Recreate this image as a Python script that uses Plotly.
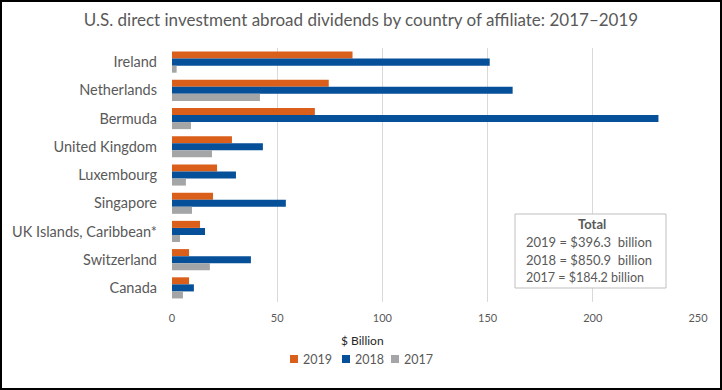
import plotly.graph_objects as go

countries = ["Ireland", "Netherlands", "Bermuda", "United Kingdom", "Luxembourg",
             "Singapore", "UK Islands, Caribbean*", "Switzerland", "Canada"]
v2019 = [85.8, 74.5, 67.9, 28.5, 21.4, 19.5, 13.3, 8.1, 8.1]
v2018 = [151.0, 161.9, 231.2, 43.2, 30.4, 54.1, 15.7, 37.5, 10.4]
v2017 = [2.2, 41.8, 9.0, 19.0, 6.6, 9.5, 3.8, 18.0, 5.2]
series_names = ["2019", "2018", "2017"]
series_colors = ["#DA5F1B", "#064F99", "#A3A5A6"]
x_ticks = [0, 50, 100, 150, 200, 250]
totals = ["2019 = $396.3  billion", "2018 = $850.9  billion", "2017 = $184.2 billion"]

W, H = 722, 390
L, R, T, B = 172, 698, 48, 302
pw, ph = R - L, B - T

def px(x):
    return (x - L) / pw

def py(y):
    return (B - y) / ph

font = "Lato, 'Open Sans', sans-serif"
txt = "#595959"

fig = go.Figure()
for name, vals, col in zip(series_names, [v2019, v2018, v2017], series_colors):
    fig.add_trace(go.Bar(y=countries, x=vals, name=name, orientation="h",
                         marker=dict(color=col, line=dict(width=0)), showlegend=False))

fig.update_layout(
    width=W, height=H,
    margin=dict(l=L, r=W - R, t=T, b=H - B, autoexpand=False),
    paper_bgcolor="white", plot_bgcolor="white",
    barmode="group", bargap=0.25, bargroupgap=0,
    font=dict(family=font, color=txt),
    title=dict(text="U.S. direct investment abroad dividends by country of affiliate: 2017–2019",
               x=0.5, xref="container", xanchor="center",
               y=1 - 20 / H, yanchor="middle",
               font=dict(size=17, color="#595959", family=font)),
    xaxis=dict(range=[0, 250], tickvals=x_ticks, showgrid=True, gridcolor="#D9D9D9",
               gridwidth=1, zeroline=False, showline=False, ticks="",
               tickfont=dict(size=11, color=txt), ticklabelstandoff=8, fixedrange=True),
    yaxis=dict(autorange="reversed", showgrid=False, zeroline=False, showline=False,
               ticks="", tickfont=dict(size=14.5, color=txt), ticklabelstandoff=14,
               fixedrange=True),
    showlegend=False,
)

fig.add_annotation(text="$ Billion", xref="paper", yref="paper", x=px(362), y=py(340),
                   showarrow=False, font=dict(size=12, color="#262626"),
                   xanchor="center", yanchor="middle")

# legend (manual, square swatches)
leg_x = [290, 342, 391]
for name, col, lx in zip(series_names, series_colors, leg_x):
    fig.add_shape(type="rect", xref="paper", yref="paper",
                  x0=px(lx), x1=px(lx + 8), y0=py(363), y1=py(355),
                  line=dict(width=0), fillcolor=col)
    fig.add_annotation(text=name, xref="paper", yref="paper", x=px(lx + 11), y=py(359),
                       showarrow=False, font=dict(size=12.5, color=txt),
                       xanchor="left", yanchor="middle")

# total box
fig.add_shape(type="rect", xref="paper", yref="paper",
              x0=px(515), x1=px(666), y0=py(288), y1=py(214),
              line=dict(color="#BFBFBF", width=1), fillcolor="white", layer="above")
fig.add_annotation(text="<b>Total</b>", xref="paper", yref="paper", x=px(592), y=py(224),
                   showarrow=False, font=dict(size=13, color=txt),
                   xanchor="center", yanchor="middle")
for i, t in enumerate(totals):
    fig.add_annotation(text=t, xref="paper", yref="paper", x=px(524), y=py(242 + 17.8 * i),
                       showarrow=False, font=dict(size=13 if i < 2 else 12.5, color=txt),
                       xanchor="left", yanchor="middle")

# outer black border
fig.add_shape(type="rect", xref="paper", yref="paper",
              x0=px(1), x1=px(W - 1), y0=py(H - 1), y1=py(1),
              line=dict(color="black", width=2), fillcolor="rgba(0,0,0,0)", layer="above")

fig.write_html("out.html", config={"displayModeBar": False},
               post_script="document.body.style.margin='0';")
